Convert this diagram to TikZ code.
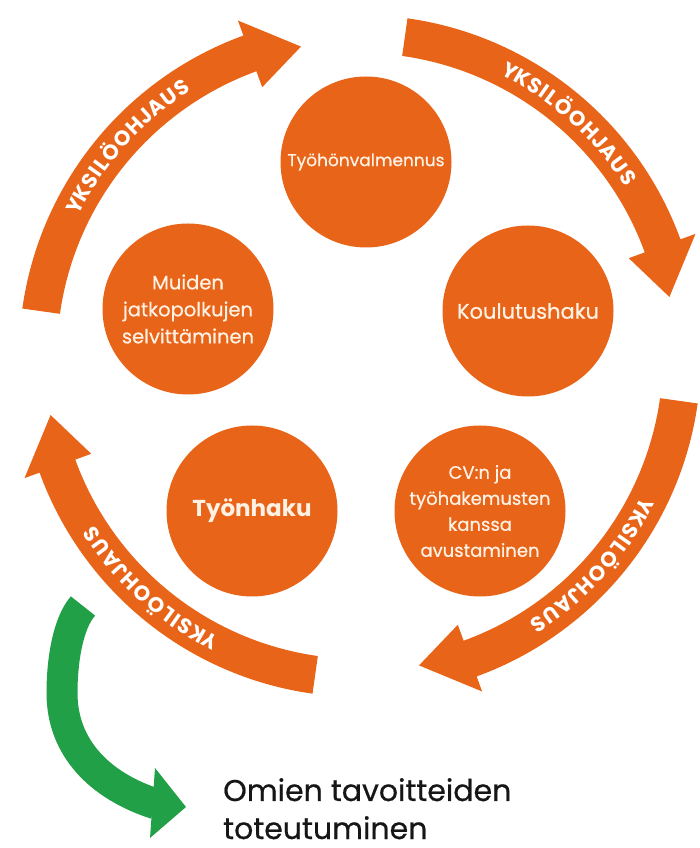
\documentclass[tikz,border=0pt]{standalone}
\usepackage{fontspec}
\setmainfont{Poppins}
\newfontfamily\medfont{Poppins}[FakeBold=0.6]
\definecolor{orng}{RGB}{232,100,24}
\definecolor{grn}{RGB}{34,160,72}
\definecolor{cream}{RGB}{255,242,228}
\definecolor{ink}{RGB}{22,22,22}
\begin{document}
\begin{tikzpicture}[x=1pt,y=1pt,
  bubble/.style={circle, fill=orng, minimum size=171pt, inner sep=0pt,
    text=cream, align=center},
  ringarrow/.style={fill=orng},
  lblchar/.style={anchor=base, inner sep=0pt, text=white,
    font=\bfseries\fontsize{21}{21}\selectfont},
  goal/.style={anchor=base west, text=ink, inner sep=0pt,
    font=\medfont\fontsize{30}{30}\selectfont}
]
\useasboundingbox (0,0) rectangle (700,848);

% circles
\node[bubble, font=\medfont\fontsize{17}{20}\selectfont] (tyovalm) at (366,686) {Työhönvalmennus};
\node[bubble, font=\medfont\fontsize{21}{24}\selectfont] (koulutus) at (528,537) {Koulutushaku};
\node[bubble, font=\medfont\fontsize{19.5}{27}\selectfont] (muiden) at (188,539) {Muiden\\jatkopolkujen\\selvittäminen};
\node[bubble, font=\bfseries\fontsize{23}{26}\selectfont] (tyonhaku) at (252,337) {Työnhaku};
\node[bubble, font=\medfont\fontsize{18}{26}\selectfont] (cv) at (480,337) {CV:n ja\\työhakemusten\\kanssa\\avustaminen};

% ring arrows
\begin{scope}[shift={(360,492)}]
  \foreach \a in {82,172,-8,262} {
    \fill[ringarrow] ({\a}:341) arc[start angle=\a, end angle=\a-62, radius=341]
      -- ({\a-62}:357) -- ({\a-71.2}:315) -- ({\a-62}:286) -- ({\a-62}:303)
      arc[start angle=\a-62, end angle=\a, radius=303] -- cycle;
  }
  \foreach \c [count=\k] in {48,138,-42,228} {
    \foreach \ch/\o [count=\i] in {Y/14.28, K/11.63, S/9.04, I/7.18, L/5.47, Ö/2.76,
        O/-0.48, H/-3.61, J/-6.16, A/-8.68, U/-11.62, S/-14.33} {
      \node[lblchar, rotate={\c+\o-90}] (lbl\k-\i) at ({\c+\o}:314.7) {\ch};
    }
  }
\end{scope}

% green arrow
\coordinate (gtail) at (83,242);
\coordinate (gmid) at (62,155);
\coordinate (gend) at (156,44);
\draw[grn, line width=31pt, line cap=butt] (gtail) .. controls (68,225) and (62,188) .. (gmid)
  .. controls (62,100) and (100,62) .. (gend);
\fill[grn] (155,80) -- (186,41) -- (150,10) -- cycle;

% goal text
\node[goal] (goal1) at (223,47) {Omien tavoitteiden};
\node[goal] (goal2) at (223,9) {toteutuminen};
\end{tikzpicture}
\end{document}
